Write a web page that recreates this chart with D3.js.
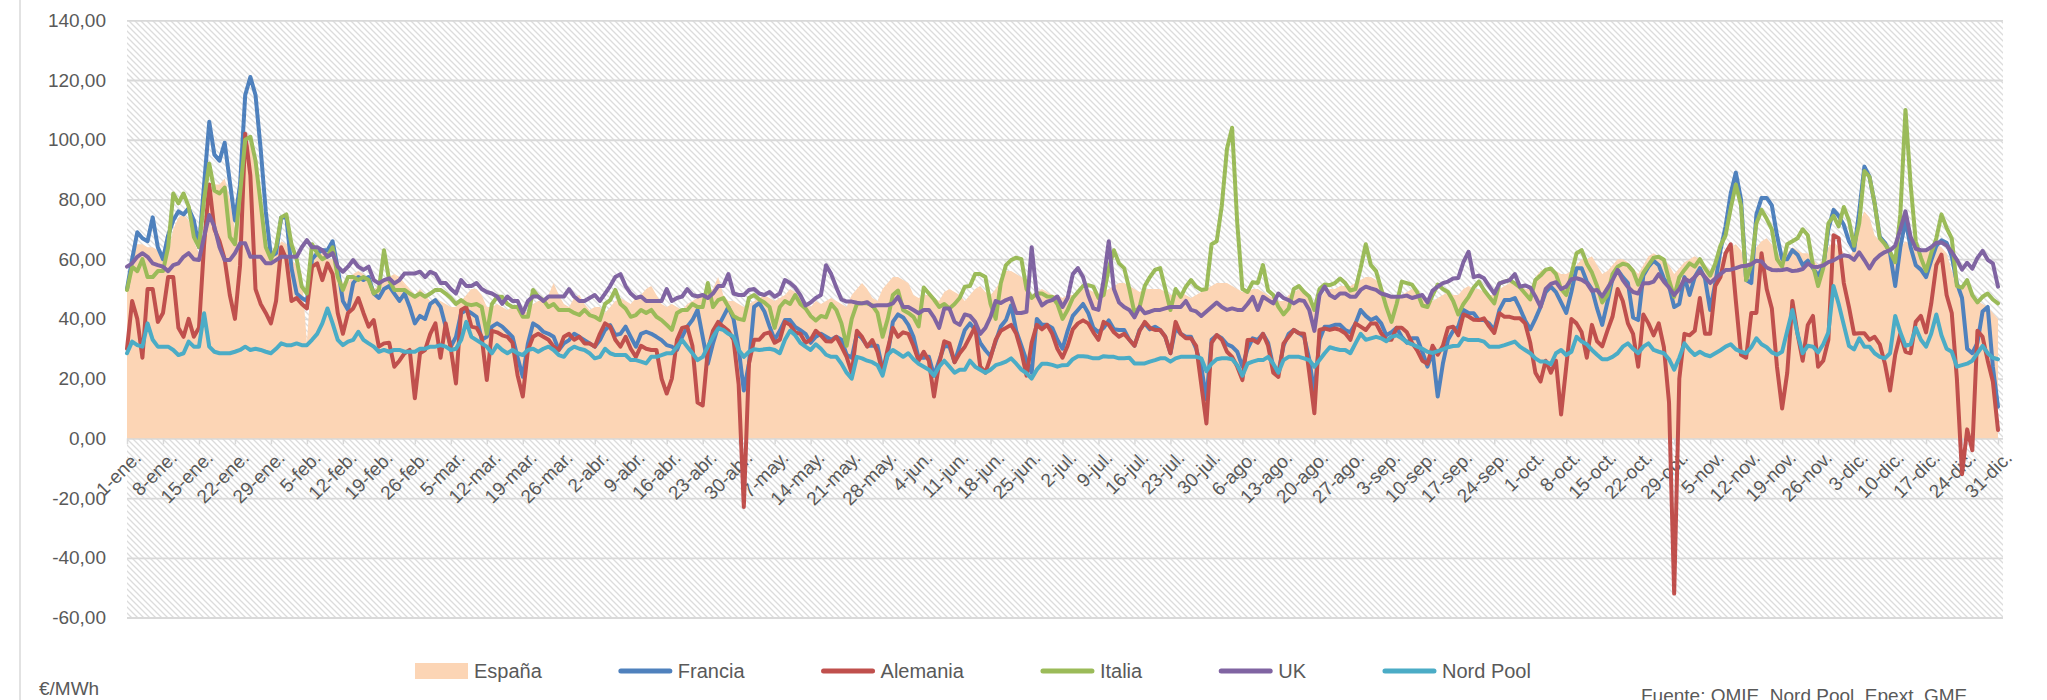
<!DOCTYPE html>
<html lang="es">
<head>
<meta charset="UTF-8">
<title>Precios diarios mercados eléctricos europeos</title>
<style>
  body { margin: 0; background: #fff; }
  svg text { font-family: "Liberation Sans", Arial, sans-serif; fill: #595959; }
</style>
</head>
<body>
<svg id="chart" width="2047" height="700"></svg>
<script src="https://cdn.jsdelivr.net/npm/d3@7"></script>
<script>
// precios medios diarios, €/MWh (1-ene a 31-dic)
const espana = [
  50, 62, 65, 65, 64, 64, 63, 60, 62, 70, 74, 75, 73, 66, 62, 70, 82, 85, 85, 87,
  80, 70, 80, 95, 100, 95, 78, 64, 60, 62, 66, 65, 60, 58, 55, 32, 58, 62, 62, 60,
  60, 56, 52, 52, 55, 56, 55, 53, 50, 51, 53, 54, 55, 54, 52, 50, 48, 50, 48, 46,
  47, 46, 45, 44, 44, 46, 48, 50, 50, 48, 44, 44, 45, 44, 43, 44, 45, 43, 42, 45,
  46, 46, 48, 52, 48, 45, 44, 47, 48, 45, 43, 44, 44, 42, 44, 46, 47, 46, 45, 47,
  48, 50, 51, 48, 45, 44, 45, 44, 43, 45, 46, 47, 48, 49, 50, 54, 48, 46, 46, 45,
  44, 45,
  46, 47, 48, 47, 46, 47, 48, 50, 49, 47, 45, 44, 46, 45, 46, 47, 46, 45, 44, 48,
  50, 52, 50, 47, 46, 50, 52, 54, 54, 53, 52, 48, 47, 48, 48, 47, 46, 49, 50, 49,
  48, 46, 48, 50, 51, 49, 48, 50, 53, 56, 56, 55, 54, 52, 48, 49, 50, 49, 48, 48,
  47, 48,
  48, 49, 50, 50, 49, 48, 49, 50, 51, 52, 52, 51, 50, 49, 50, 50, 50, 50, 49, 48,
  48, 49, 48, 47, 48, 49, 50, 51, 52, 52, 52, 51, 50, 49, 49, 50, 50, 49, 48, 47,
  46, 46, 48, 49, 50, 49, 47, 45, 47, 49, 50, 50, 51, 51, 51, 52, 53, 54, 54, 53,
  51,
  48, 47, 47, 48, 49, 50, 49, 48, 47, 46, 47, 48, 49, 48, 48, 50, 51, 50, 50, 49,
  48, 48, 50, 51, 52, 52, 51, 50, 50, 54, 56, 57, 57, 56, 55, 55, 56, 58, 60, 60,
  61, 58, 55, 56, 58, 60, 60, 59, 57, 55, 58, 61, 62, 61, 60, 58, 55, 57, 59, 60,
  61,
  60, 58, 56, 58, 60, 62, 64, 65, 63, 58, 60, 64, 66, 67, 65, 62, 60, 62, 64, 63,
  62, 62, 60, 58, 60, 64, 66, 64, 62, 60, 64, 72, 76, 74, 68, 66, 65, 63, 60, 64,
  66, 65, 63, 62, 63, 64, 65, 64, 62, 56, 52, 50, 52, 49, 46, 45, 44, 42, 40
];

const francia = [
  50, 60, 69, 67, 66, 74, 64, 60, 68, 73, 76, 75, 77, 73, 64, 85, 106, 95, 93, 99,
  86, 73, 85, 115, 121, 115, 97, 76, 61, 62, 74, 74, 57, 48.5, 47, 46, 60, 62, 63, 63,
  66, 57, 46, 43, 52, 54, 53, 54, 48.5, 47, 50, 51, 48.5, 46, 48.5, 44, 38.5, 41, 40, 45,
  46.3, 44, 37.4, 30.7, 34, 41.9, 43, 41.9, 40.7, 33, 34, 37.4, 38.5, 37.4, 35.7, 34, 27, 20.6, 31.8, 38.5,
  37.4, 35.7, 35, 34, 29.6, 31.8, 32.9, 35, 34, 32.9, 31.8, 30.7, 32.9, 36.3, 37.9, 34.6, 35, 37.4, 34, 30.7,
  35, 35.7, 35, 34, 32.9, 31.2, 30.7, 29.6, 34, 37.4, 39.6, 43, 34, 25, 31.8, 37.4, 40.7, 44, 40, 30,
  16, 25,
  44, 45.3, 42.5, 37.5, 33, 36, 39.6, 39.6, 37.3, 36.2, 35, 32, 34, 35, 34, 33, 34, 33, 28, 27,
  35, 33.5, 31, 31, 31, 23, 28, 39, 41.5, 40.5, 38, 34, 27, 27, 27.3, 21, 26, 31, 30.7, 25.5,
  31, 36.3, 38.5, 36.3, 32, 29.5, 27.5, 32.5, 37.5, 39.6, 44.5, 36, 31, 26, 22, 40, 38, 38, 37, 33,
  30, 36,
  41, 43, 45, 42, 37, 35.5, 37, 39.5, 36.5, 36.3, 36.3, 33, 31, 36.3, 38.5, 36.5, 37.4, 36.3, 34, 28.5,
  37, 35, 34, 34, 30, 24, 13, 33, 34.5, 33.5, 31.5, 30.7, 29, 24, 30, 33.5, 33, 35, 32, 24,
  22, 31, 35, 36.3, 35.2, 34, 26.5, 15, 33, 37.4, 37.4, 38, 38, 36.3, 35.5, 38.5, 43, 41, 39.6, 40.5,
  38.5,
  34.5, 35.5, 37, 34, 32, 33.5, 33.5, 29, 24, 29, 14, 25, 33, 36, 37.4, 43, 42, 41.9, 39.6, 39.6,
  38.5, 36.3, 43, 46.3, 46.3, 47, 43.5, 39.5, 36.5, 40, 44, 49, 50.8, 49, 45.5, 42, 49, 57, 57, 52.5,
  50, 43.5, 38, 45.5, 53.5, 56.4, 54, 52, 40.5, 39.6, 54.5, 57.5, 59.5, 58, 53.5, 51, 44, 45, 54, 48,
  54,
  57, 53.5, 43, 52, 63, 71, 82, 89, 80, 53, 52, 75, 80.5, 80.5, 78, 68, 60, 60, 63, 61.5,
  58, 59.5, 57, 54.5, 57.5, 70, 76.5, 74.5, 71.5, 66, 63, 76, 91, 87.6, 78.7, 67.5, 65.5, 62, 51, 64,
  73, 64, 58, 56.5, 54, 59.5, 64.5, 66.3, 65.5, 61, 52, 47, 30, 28.5, 32, 42.5, 44, 24, 10.6
];

const alemania = [
  30, 46, 40, 27, 50, 50, 39, 42, 54, 54, 37, 34, 40, 34, 37, 65, 85, 70, 66, 60,
  48, 40, 58, 102, 88, 50, 45, 42, 38.5, 46, 64, 60, 46, 47, 45, 43.5, 57.5, 58.6, 53, 58.6,
  55, 42, 35, 42, 43.5, 47, 42, 37.4, 39.6, 30.7, 31.8, 32, 24, 26, 28.5, 29.6, 13.4, 28.5, 29.6, 35,
  38.5, 27, 38.5, 30, 18.4, 43, 44, 37.4, 37, 34, 19.5, 36, 35.5, 34.5, 34, 32, 21, 14, 29.6, 34,
  35, 34, 33, 30.7, 29.6, 34, 35, 33, 34, 31.8, 31.8, 30.7, 35, 38.5, 37.4, 33, 30.7, 34, 30, 27.3,
  31, 30, 29.6, 29.6, 20, 15, 20, 33, 37, 37.4, 31, 12, 11, 29.6, 36, 39, 37.4, 36, 33, 18,
  -23, 25,
  33, 33, 35, 35.5, 32, 33, 39, 38, 35.5, 35, 32, 33, 36, 34.5, 32.5, 32.4, 34, 30.7, 27.3, 21.8,
  36, 34, 30.7, 32.9, 29, 22, 30, 37, 34, 35.5, 35, 31, 26, 29, 26, 14, 25, 32.5, 31.8, 25.5,
  28.5, 30.7, 34, 37.4, 24, 22, 27, 33, 36, 37, 38, 35, 29, 21, 32, 38, 36.5, 38, 35, 30,
  27, 31,
  36.5, 38.5, 39.5, 38.5, 35.5, 33, 39, 38, 35.5, 34, 35, 33, 31, 36, 39, 37, 36.3, 36.3, 34, 28.5,
  39, 35, 33.5, 33.5, 31, 18, 5, 32, 34.6, 33, 29, 27.3, 24, 19.5, 32.9, 33, 32, 35, 31, 22,
  20.6, 31.8, 34, 36.3, 35.2, 35, 22, 8.4, 36.3, 36.8, 36.3, 36.8, 36.3, 35.2, 33, 38.5, 37.4, 36.3, 38.5, 38.5,
  35.2,
  33, 33, 37, 37, 35.5, 32, 29.5, 26, 25, 31, 28, 31, 37, 37.4, 34.5, 41.5, 40.8, 39.7, 39.6, 40.2,
  37.5, 35.3, 41.9, 40.7, 40.7, 40.2, 40.2, 38.5, 32, 22, 19, 26, 22, 26, 8, 24, 40, 38.5, 35.5, 27,
  38, 32.5, 30.8, 36, 40.7, 50, 46, 38.5, 35, 24, 41.5, 38.5, 34.5, 38.5, 30.5, 12, -52, 20, 35, 34.5,
  36,
  47, 35, 35, 51, 54, 62, 65, 46, 28, 27, 42, 42, 62, 50, 43.5, 24, 10, 22, 46, 35,
  26, 38, 41, 24, 26, 33, 68, 67, 52, 44, 35, 35.2, 35.2, 33, 34, 31.5, 25, 16, 28, 35,
  29, 28.5, 39, 41, 35.5, 45, 58, 61.5, 48, 42, 20, -12, 3, -4, 36, 34, 26, 19, 2.8
];

const italia = [
  49.7, 57.5, 56, 60, 54, 54, 56, 56, 64, 82, 78.7, 82, 77.6, 67.5, 64, 80, 92, 83, 82, 84,
  67.5, 65, 82, 100, 101, 93, 78.7, 64, 60, 64, 74, 75, 65, 60, 50.8, 48.5, 65, 62, 60, 61,
  64, 54, 49.7, 54, 54, 53, 54, 53, 48.5, 49.7, 63, 53, 49.7, 49.7, 49.7, 48.5, 47.4, 48.5, 47.4, 48.5,
  49.7, 49.7, 48.5, 47, 45, 46.3, 45, 44.6, 45, 44, 35, 45, 47.4, 47.4, 45, 44, 44, 40.7, 40.7, 49.7,
  47.4, 46.3, 44, 45, 43, 43, 43, 42, 41.3, 43, 41.3, 40.7, 39.6, 45, 46.3, 49.7, 45, 43.5, 40.7, 41.3,
  43, 42, 43, 40.7, 39.6, 38, 36.3, 42, 43, 43, 45, 44, 44, 52, 44, 46.3, 47, 44, 41, 40,
  39.6, 47,
  48, 46.5, 45.5, 44, 37, 44, 46, 45, 48, 45, 43.5, 41, 39.5, 41, 40.5, 45, 43, 38.5, 31, 40,
  45, 45.2, 45.2, 44.5, 42, 34, 40, 48, 49.5, 43, 42, 40.7, 37.5, 50.5, 48.5, 46.5, 44, 45, 43.5, 45,
  47, 50.8, 51, 55, 55, 54, 45, 40, 52, 58, 59.7, 60.5, 60, 50, 47, 48.5, 48.5, 47.5, 47.4, 45,
  40, 43,
  47, 49, 51, 51.3, 50.8, 47, 48, 57, 63, 58.6, 57, 50, 42, 44, 51, 54, 56.4, 57, 50, 43,
  50, 47.4, 50.8, 53, 50.8, 49.7, 50, 65, 66, 78, 97, 104, 72, 50, 49, 52.3, 52, 58, 49.5, 48,
  44, 41.5, 43.5, 50, 51, 49, 47.5, 43, 50, 51.5, 51.3, 52, 53.5, 52, 49.5, 50, 57, 65, 58, 56,
  50,
  44, 39, 45, 52.5, 52, 51.5, 49, 44.5, 44, 48, 51.5, 50, 49, 46, 41.5, 45, 47.4, 50.5, 52.5, 49.7,
  47.4, 45.2, 51.9, 52.5, 53, 51.9, 50.5, 48.5, 46.5, 53, 54.5, 56.4, 56.9, 55, 50, 48, 55, 62, 63, 58.5,
  55.5, 51, 45.5, 48, 55, 57.5, 58.5, 58, 56, 51.5, 55.5, 58, 60.5, 60.8, 59.8, 53, 47.4, 54, 56.4, 58.6,
  57.5,
  60, 57, 54.5, 58.5, 64.5, 68, 77, 85, 78, 53, 58, 72, 76.5, 73.5, 70, 60, 57.5, 65, 66, 67,
  70, 68, 58, 51, 57, 72, 74.5, 71, 77.5, 73, 64.5, 72, 89.5, 87.6, 78.7, 67, 65, 62.5, 59, 75,
  110, 85, 66, 60.5, 56, 62, 67, 75, 70.5, 67, 51, 50.5, 53, 48, 45.5, 47.4, 48.5, 46.5, 45.2
];

const uk = [
  57.5, 58.6, 60.8, 62, 60.8, 58.6, 58, 57.5, 56, 58, 58.6, 60.8, 62, 60, 59.7, 67.5, 74.8, 70.9, 64, 59.7,
  59.7, 62, 65.3, 65.3, 60.8, 60.8, 60.8, 58.6, 58.6, 59.7, 60.8, 60.8, 60.8, 60.8, 64, 66.4, 64, 64, 63, 60.8,
  62, 57.5, 55.8, 57.5, 59.7, 57.5, 56.4, 57.5, 53, 51.9, 53, 53.6, 51.9, 53, 55.2, 55.2, 55.2, 55.8, 54, 55.8,
  55, 52, 52, 50, 48.5, 53, 51, 51, 52, 50, 49, 48.5, 47.5, 45, 47.5, 46, 46, 42, 46, 47.5,
  47.5, 46, 47.5, 47.5, 47.5, 47.5, 50, 47.5, 46, 46, 47, 48, 46, 48.5, 51, 54, 55, 51, 48.5, 47,
  47.5, 46, 46, 46, 46, 50, 46, 47, 47.5, 50, 48, 47.5, 48, 47, 48.5, 51, 51, 55, 48.5, 48,
  48, 49.7,
  50, 48.5, 48, 49, 47.4, 48.5, 53, 52, 50.5, 48, 44.5, 45.5, 47, 48, 58, 55, 50.5, 46.5, 45.8, 45.8,
  45.4, 45.2, 45.6, 44.3, 44.6, 44.6, 44.6, 45.2, 47.4, 44, 44, 43, 41.9, 43, 43, 40.5, 37, 43.5, 43.5, 39,
  38, 41.5, 41, 39, 35, 37, 40.7, 46, 45.3, 46.3, 47, 42, 42, 42.4, 64, 48, 44.5, 45.8, 46.3, 47.5,
  44, 47,
  55, 57, 54, 48, 43.5, 43, 53, 66, 50, 45.5, 44, 43, 40.5, 44, 41.9, 42.4, 43, 43, 43.5, 44,
  44, 44, 46, 43, 42.5, 41, 42.5, 44, 45.5, 44, 43, 43.5, 43, 43, 45, 47.4, 43, 47.4, 46.3, 45.2,
  48.5, 47, 46.3, 45.2, 46.3, 46, 43, 36, 48, 50.8, 48, 47, 48.5, 48.5, 47.4, 47.4, 49.7, 50.8, 50.2, 49.7,
  48.5,
  48, 47.4, 47.4, 47.5, 47.8, 47, 47.5, 48, 45.5, 49.5, 50.8, 52, 52.5, 53.5, 53.7, 59, 62.5, 54, 54.5, 53.6,
  51, 48.5, 51.9, 52.5, 53, 55, 50.8, 51.2, 50.5, 47.5, 44, 50, 51.7, 52.3, 50, 50.8, 53.3, 53.6, 53.1, 52,
  49.4, 49.7, 47.5, 50.2, 53, 56.4, 53, 50.7, 49, 48.5, 51.9, 51.9, 52.5, 55, 52.5, 50.5, 48, 50, 53.5, 52.5,
  54,
  56, 54, 52, 53.5, 55, 56.4, 56.5, 57, 57.6, 57.8, 58.3, 59.5, 59.2, 57.2, 56.4, 56.3, 56.4, 56.7, 56, 56.2,
  56.7, 58.5, 57.5, 57.4, 57.9, 59, 59.6, 60.6, 61.3, 61, 59.8, 62.3, 59.7, 56.9, 59.7, 61.3, 62.4, 63, 64.5, 70,
  76, 67.5, 63.5, 63, 63, 64, 65.5, 65.6, 64.6, 62.4, 59.8, 56.5, 58.8, 56.8, 60.4, 62.8, 59.8, 58.6, 50.8
];

const nordPool = [
  28.5, 32.4, 31.2, 30.7, 38.5, 33, 30.7, 30.7, 30.7, 29.6, 27.9, 28.5, 32.4, 30.7, 30.7, 41.9, 30.7, 29, 28.5, 28.5,
  28.5, 29, 29.6, 30.7, 29.6, 30, 29.6, 29, 28.5, 30, 31.8, 31.2, 31.2, 31.8, 31.2, 31.2, 33, 35, 38.5, 43.5,
  38.5, 33, 31.2, 32.4, 33, 35.7, 33, 31.8, 30.7, 29, 29.6, 29, 29.6, 29.6, 29, 29, 29, 30, 30, 30.7,
  30.7, 31.2, 30.7, 29.6, 30, 32.9, 39, 34, 32.9, 31.8, 30.7, 28.5, 31.2, 29.6, 28.5, 29.6, 28.5, 27.9, 29.6, 30,
  29, 30, 30.7, 29.6, 27.9, 27.3, 29.6, 30.7, 30, 29.6, 28.5, 26.8, 27.3, 30, 28.5, 27.9, 27.9, 27.9, 26.2, 26.2,
  25.7, 25.1, 27.3, 27.3, 27.9, 28.5, 28.5, 30.7, 32.9, 30.7, 28.5, 26.2, 27.3, 30.7, 34, 36.8, 36.3, 35, 34, 29.6,
  27.3, 29,
  29.8, 29.6, 29.8, 30, 29.6, 28.5, 33, 36, 34.5, 32, 30.7, 29.6, 31.5, 30, 28, 27.3, 27.3, 25, 22, 20,
  27.3, 26.8, 26, 25.5, 24.5, 21, 28, 29.6, 28.5, 27.3, 28.5, 26.5, 25, 24, 23, 21, 24, 26, 24, 22,
  23, 23, 26, 24, 23, 22, 23, 24.5, 25, 25.7, 26.8, 25, 23, 21.8, 20, 23, 25, 25, 24.6, 24,
  24.5, 24.6,
  26.5, 27.5, 27.5, 27.3, 26.8, 26.8, 27.5, 27.3, 27.3, 26.8, 26.8, 27, 25.1, 25.1, 25.1, 25.7, 26.2, 26.8, 26.8, 25.7,
  26.8, 27.3, 27.3, 27.3, 27.3, 26.8, 22.5, 25, 26.5, 26.8, 26.8, 26.5, 24.5, 21, 25, 25.7, 26.2, 26.2, 27.3, 25,
  22, 26.2, 27.3, 27.3, 27.3, 26.8, 26.2, 24, 26.2, 28.5, 30.5, 30, 29.6, 29.6, 28.5, 31.8, 35, 33, 33.5, 34,
  33.5,
  32.5, 34, 34.5, 33.5, 32.2, 31.5, 30.7, 30, 29, 28.6, 29.2, 29.8, 30.5, 30.9, 31, 33.5, 32.9, 32.9, 32.9, 32.4,
  30.7, 30.7, 30.7, 31.2, 31.8, 32.4, 30.7, 29.6, 28.5, 26.8, 25.7, 25.7, 24.8, 28.5, 29.6, 27.9, 29, 34, 32.4, 31.5,
  29.6, 28, 26.5, 26.5, 27.3, 28.5, 30.7, 31.8, 30, 28.5, 30.7, 31.8, 29.6, 29, 28.5, 26.5, 23, 27, 31.8, 29.6,
  27.9,
  29, 28, 27.5, 28.5, 29.5, 30.7, 31.5, 29.8, 29, 28.5, 30.5, 33.5, 31.5, 30.5, 28.8, 28, 29, 36, 43, 35,
  28.5, 31, 30.7, 28.8, 31.5, 35.5, 51, 45, 38, 31, 29.8, 33.5, 30.7, 30.7, 28.5, 27.3, 26.8, 28.5, 41, 35.5,
  31, 31.5, 37, 33, 30.7, 35, 41.5, 34.5, 30, 29, 24, 24.5, 25, 26, 28.5, 31, 28.5, 27, 26.5
];

const tickLabels = [
  "1-ene.", "8-ene.", "15-ene.", "22-ene.", "29-ene.", "5-feb.", "12-feb.", "19-feb.", "26-feb.",
  "5-mar.", "12-mar.", "19-mar.", "26-mar.", "2-abr.", "9-abr.", "16-abr.", "23-abr.", "30-abr.",
  "7-may.", "14-may.", "21-may.", "28-may.", "4-jun.", "11-jun.", "18-jun.", "25-jun.",
  "2-jul.", "9-jul.", "16-jul.", "23-jul.", "30-jul.", "6-ago.", "13-ago.", "20-ago.", "27-ago.",
  "3-sep.", "10-sep.", "17-sep.", "24-sep.", "1-oct.", "8-oct.", "15-oct.", "22-oct.", "29-oct.",
  "5-nov.", "12-nov.", "19-nov.", "26-nov.", "3-dic.", "10-dic.", "17-dic.", "24-dic.", "31-dic."
];
const yTicks = [-60, -40, -20, 0, 20, 40, 60, 80, 100, 120, 140];

const dias = d3.timeDay.range(new Date(2017, 0, 1), new Date(2018, 0, 1));

const lineas = [
  { name: "Francia", values: francia, color: "#4F81BD" },
  { name: "Alemania", values: alemania, color: "#C0504D" },
  { name: "Italia", values: italia, color: "#9BBB59" },
  { name: "UK", values: uk, color: "#8064A2" },
  { name: "Nord Pool", values: nordPool, color: "#4BACC6" }
];
const areaColor = "#FCD5B5";

const svg = d3.select("#chart");
const left = 127, right = 2003;

const x = d3.scaleTime()
  .domain([dias[0], dias[dias.length - 1]])
  .range([left, 1998]);
const y = d3.scaleLinear()
  .domain([-60, 140])
  .range([617.5, 20.3]);

// hatch pattern for plot background
const defs = svg.append("defs");
const pat = defs.append("pattern")
  .attr("id", "hatch")
  .attr("patternUnits", "userSpaceOnUse")
  .attr("width", 6).attr("height", 6);
pat.append("rect").attr("width", 6).attr("height", 6).attr("fill", "#fff");
pat.append("path")
  .attr("d", "M-1,-1L7,7M-1,5L1,7M5,-1L7,1")
  .attr("stroke", "#DCDCDC")
  .attr("stroke-width", 1.3);

// thin frame line on the left
svg.append("line")
  .attr("x1", 20).attr("x2", 20).attr("y1", 0).attr("y2", 700)
  .attr("stroke", "#D9D9D9").attr("stroke-width", 1.5);

svg.append("rect")
  .attr("x", left).attr("y", y(140))
  .attr("width", right - left).attr("height", y(-60) - y(140))
  .attr("fill", "url(#hatch)");

// y axis + gridlines
const fmt = d => d.toFixed(2).replace(".", ",");
const yAxis = svg.append("g")
  .attr("transform", "translate(" + left + ",0)")
  .call(d3.axisLeft(y).tickValues(yTicks).tickSize(-(right - left)).tickPadding(21).tickFormat(fmt));
yAxis.select(".domain").remove();
yAxis.selectAll("line").attr("stroke", "#D9D9D9").attr("stroke-width", 1.8);
yAxis.selectAll("text").attr("font-size", 19).attr("fill", "#595959");

// España area
const area = d3.area()
  .x((d, i) => x(dias[i]))
  .y0(y(0))
  .y1(d => y(d));
svg.append("path")
  .datum(espana)
  .attr("fill", areaColor)
  .attr("d", area);

// x axis on the zero line
const weekly = dias.filter((d, i) => i % 7 === 0);
const xAxis = svg.append("g")
  .attr("transform", "translate(0," + y(0) + ")")
  .call(d3.axisBottom(x).tickValues(weekly).tickSize(6).tickFormat((d, i) => tickLabels[i]));
xAxis.select(".domain").remove();
xAxis.selectAll("line").attr("stroke", "#D9D9D9").attr("stroke-width", 1.5);
xAxis.selectAll("text")
  .attr("font-size", 19)
  .attr("fill", "#595959")
  .attr("x", 0).attr("y", 0).attr("dy", "0.72em")
  .attr("text-anchor", "end")
  .attr("transform", "translate(5,11) rotate(-45)");

// lines
const line = d3.line()
  .x((d, i) => x(dias[i]))
  .y(d => y(d));
svg.selectAll("path.serie")
  .data(lineas)
  .enter()
  .append("path")
  .attr("class", "serie")
  .attr("fill", "none")
  .attr("stroke", d => d.color)
  .attr("stroke-width", 4)
  .attr("stroke-linejoin", "round")
  .attr("stroke-linecap", "round")
  .attr("d", d => line(d.values));

// legend
const legend = svg.append("g").attr("transform", "translate(0,671)");
const items = [{ name: "España", color: areaColor, isArea: true }].concat(lineas);
let lx = 415;
items.forEach(it => {
  if (it.isArea) {
    legend.append("rect").attr("x", lx).attr("y", -8).attr("width", 53).attr("height", 16).attr("fill", it.color);
  } else {
    legend.append("line").attr("x1", lx + 2).attr("x2", lx + 51).attr("y1", 0).attr("y2", 0)
      .attr("stroke", it.color).attr("stroke-width", 5).attr("stroke-linecap", "round");
  }
  const t = legend.append("text")
    .attr("x", lx + 59).attr("y", 0).attr("dy", "0.36em")
    .attr("font-size", 20).attr("fill", "#595959")
    .text(it.name);
  lx += 59 + t.node().getComputedTextLength() + 77;
});

svg.append("text")
  .attr("x", 39).attr("y", 695)
  .attr("font-size", 19).attr("fill", "#7F7F7F")
  .text("€/MWh");

svg.append("text")
  .attr("x", 1641).attr("y", 702)
  .attr("font-size", 19).attr("fill", "#7F7F7F")
  .text("Fuente: OMIE, Nord Pool, Epext, GME");
</script>
</body>
</html>
